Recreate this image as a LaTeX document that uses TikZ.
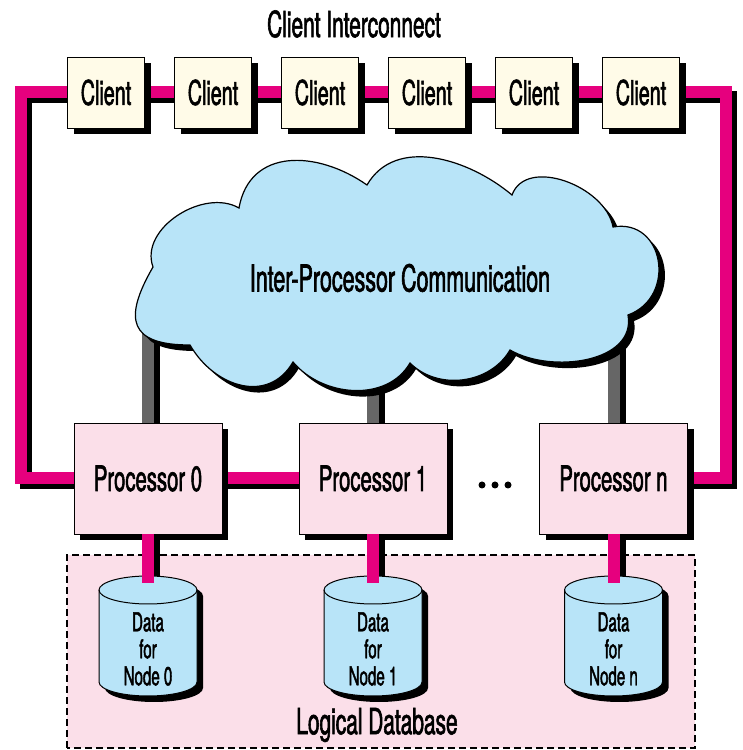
\documentclass[tikz,border=0pt]{standalone}
\usepackage{fontspec}
\setmainfont{TeX Gyre Heros}[FakeStretch=0.58, FakeBold=1.6]
\usetikzlibrary{shadows}

\definecolor{busmagenta}{RGB}{230,0,126}
\definecolor{wiregray}{RGB}{102,102,102}
\definecolor{cloudblue}{RGB}{184,228,248}
\definecolor{procpink}{RGB}{251,223,233}
\definecolor{clientcream}{RGB}{255,251,232}

% cloud outline (x, y in px with y up)
\newcommand{\cloudoutline}{(153,483) to[out=110,in=150] (239,542)
  to[out=80,in=145,looseness=1.2] (367,565) to[out=60,in=140] (512,555)
  to[out=70,in=100] (613,523) to[out=10,in=20,looseness=1.5] (628,435)
  to[out=-80,in=-30] (510,400) to[out=-120,in=-45] (410,387)
  to[out=-120,in=-50] (293,388) to[out=-120,in=-60,looseness=1.2] (190,405)
  to[out=180,in=-120,looseness=1.8] (153,483) -- cycle}

% data disk: #1 = x centre, #2 = node name, #3 = label
\newcommand{\datadisk}[3]{%
  \fill[black, transform canvas={xshift=6pt, yshift=-6pt}] (#1-49,160) -- (#1-49,68)
    arc[start angle=180, end angle=360, x radius=49, y radius=14] -- (#1+49,160)
    arc[start angle=0, end angle=180, x radius=49, y radius=14] -- cycle;
  \filldraw[fill=cloudblue, line width=1pt] (#1-49,160) -- (#1-49,68)
    arc[start angle=180, end angle=360, x radius=49, y radius=14] -- (#1+49,160)
    arc[start angle=0, end angle=180, x radius=49, y radius=14] -- cycle;
  \draw[line width=1pt] (#1-49,160) arc[start angle=180, end angle=360, x radius=49, y radius=14];
  \node[disktext] (#2) at (#1,101) {#3};
}

\begin{document}
\begin{tikzpicture}[x=1pt, y=1pt, node distance=107pt]
\useasboundingbox (0,0) rectangle (743,750);

% Define styles
\tikzstyle{client} = [rectangle, draw=black, fill=clientcream, minimum width=77pt, minimum height=71pt, inner sep=0pt, font=\fontsize{34}{34}\selectfont, drop shadow={shadow xshift=6pt, shadow yshift=-6pt, fill=black, opacity=1}]
\tikzstyle{processor} = [rectangle, draw=black, fill=procpink, minimum width=148pt, minimum height=111pt, inner sep=0pt, font=\fontsize{35}{35}\selectfont, drop shadow={shadow xshift=6pt, shadow yshift=-6pt, fill=black, opacity=1}]
\tikzstyle{disktext} = [align=center, inner sep=0pt, font=\fontsize{26}{27}\selectfont]
\tikzstyle{caption} = [font=\fontsize{36}{36}\selectfont]
\tikzstyle{bus} = [line width=12pt, draw=busmagenta]
\tikzstyle{busshadow} = [line width=12pt, draw=black, transform canvas={xshift=5pt, yshift=-5pt}]
\tikzstyle{wire} = [line width=12pt, draw=wiregray]
\tikzstyle{wireshadow} = [line width=12pt, draw=black, transform canvas={xshift=6pt}]
\tikzstyle{dbregion} = [draw=black, fill=procpink, line width=2.5pt, dash pattern=on 7pt off 4pt]

% Logical database area
\draw[dbregion] (67,2) rectangle (695,195);
\node[caption] (logdb) at (377,25) {Logical Database};

% Define nodes (clients)
\node[caption] (title) at (354,726) {Client Interconnect};
\node[client] (c1) at (106,657.5) {Client};
\node[client, right of=c1] (c2) {Client};
\node[client, right of=c2] (c3) {Client};
\node[client, right of=c3] (c4) {Client};
\node[client, right of=c4] (c5) {Client};
\node[client, right of=c5] (c6) {Client};

% Define processor nodes
\node[processor] (p0) at (148,271.5) {Processor 0};
\node[processor, right of=p0, xshift=118pt] (p1) {Processor 1};
\node[processor, right of=p1, xshift=133.5pt] (pn) {Processor n};

% Corners of the interconnect and wire ends
\coordinate (busSW) at (21,271.5);
\coordinate (busNW) at (21,657.5);
\coordinate (busSE) at (726,271.5);
\coordinate (busNE) at (726,657.5);
\coordinate (ipc0) at (148,440);
\coordinate (ipc1) at (373,400);
\coordinate (ipcn) at (613.5,450);
\coordinate (top0) at (148,167);
\coordinate (top1) at (373,167);
\coordinate (topn) at (613.5,167);

% Client interconnect (redrawn over the boxes' shadows)
\foreach \s in {busshadow, bus}
  \draw[\s] (p0.west) -- (busSW) -- (busNW) -- (c1.west)
    (c1) -- (c2) -- (c3) -- (c4) -- (c5) -- (c6)
    (c6.east) -- (busNE) -- (busSE) -- (pn.east)
    (p0) -- (p1);

% Wires to the communication cloud
\foreach \s in {wireshadow, wire} {
  \draw[\s] (p0.north) -- (ipc0);
  \draw[\s] (p1.north) -- (ipc1);
  \draw[\s] (pn.north) -- (ipcn);
}

% Inter-processor cloud
\fill[black, transform canvas={xshift=6pt, yshift=-6pt}] \cloudoutline;
\filldraw[fill=cloudblue, line width=1.2pt] \cloudoutline;
\node[caption, font=\fontsize{37}{37}\selectfont] (ipc) at (400,472) {Inter-Processor Communication};

% Redraw boxes on top
\node[client] at (c1) {Client};
\node[client] at (c2) {Client};
\node[client] at (c3) {Client};
\node[client] at (c4) {Client};
\node[client] at (c5) {Client};
\node[client] at (c6) {Client};
\node[processor] at (p0) {Processor 0};
\node[processor] at (p1) {Processor 1};
\node[processor] at (pn) {Processor n};

% dots between processors
\foreach \i in {-1,0,1}
  \fill (495+13*\i,265) circle (3.5);

% Disk links
\draw[wireshadow] (p0.south) -- (top0);
\draw[wireshadow] (p1.south) -- (top1);
\draw[wireshadow] (pn.south) -- (topn);

\datadisk{148}{db0}{Data\\for\\Node 0}
\datadisk{373}{db1}{Data\\for\\Node 1}
\datadisk{613.5}{dbn}{Data\\for\\Node n}

\draw[bus] (p0.south) -- (top0);
\draw[bus] (p1.south) -- (top1);
\draw[bus] (pn.south) -- (topn);

\end{tikzpicture}
\end{document}
